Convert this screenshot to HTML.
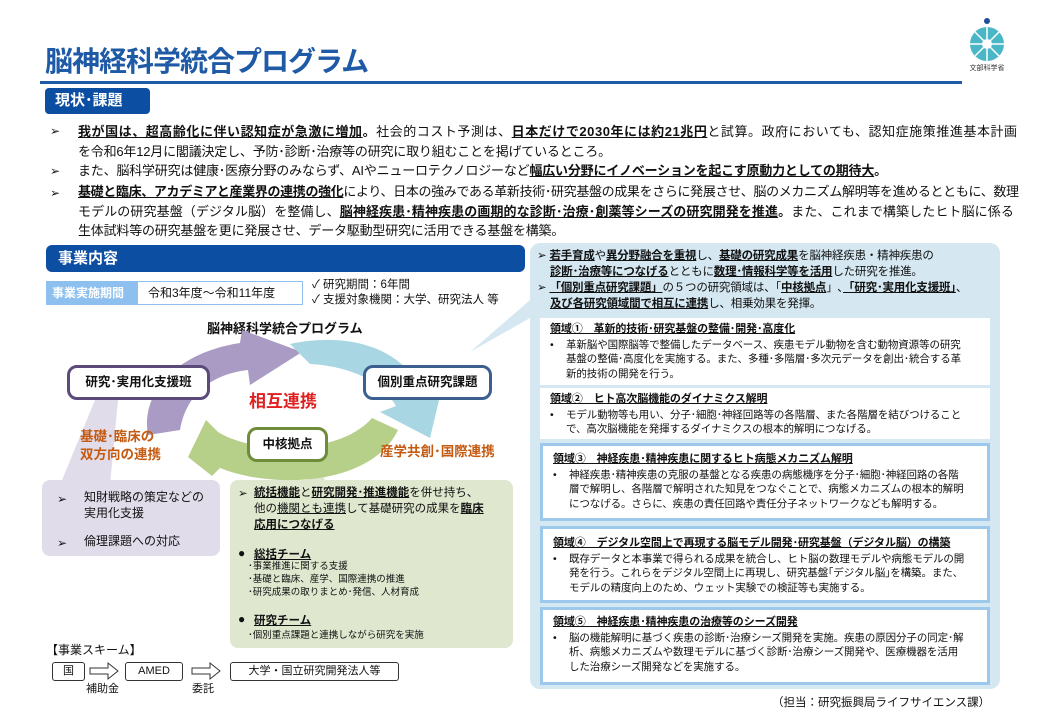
<!DOCTYPE html>
<html><head><meta charset="utf-8"><style>
*{margin:0;padding:0;box-sizing:border-box}
body{width:1040px;height:720px;background:#fff;position:relative;overflow:hidden;font-family:"Liberation Sans","Noto Sans CJK JP",sans-serif;color:#111}
.a{position:absolute;white-space:nowrap}
u{text-decoration:underline}
b{font-weight:bold}
.top{font-size:13px;line-height:19.5px;left:78px;letter-spacing:-0.2px}
.arr{position:absolute;font-size:12px;left:50px}
.rb{position:absolute;left:540px;width:450px;background:#fff;font-size:10.5px;line-height:14.5px;padding:4px 20px 0 10px;letter-spacing:-0.1px}
.rb .h{font-weight:bold;text-decoration:underline;font-size:11px;margin-bottom:1px}
.rb .t{padding-left:16px;position:relative}
.rb .t:before{content:"•";position:absolute;left:0}
.bl{border:3px solid #9cc8ec}
</style></head><body>
<div class="a" style="left:45px;top:40px;font-size:28px;font-weight:bold;color:#1f5aa6;letter-spacing:-1px">脳神経科学統合プログラム</div>
<div class="a" style="left:40px;top:81px;width:922px;height:3px;background:#1f5aa6"></div>
<svg class="a" style="left:960px;top:12px" width="55" height="60" viewBox="0 0 55 60"><circle cx="27" cy="9" r="3" fill="#1f4e9c"/><circle cx="27" cy="32" r="17" fill="#4bb6c5"/><circle cx="27" cy="32" r="5" fill="#fff"/><g stroke="#fff" stroke-width="1.5"><line x1="27" y1="15" x2="27" y2="49"/><line x1="10" y1="32" x2="44" y2="32"/><line x1="15" y1="20" x2="39" y2="44"/><line x1="39" y1="20" x2="15" y2="44"/></g><text x="27" y="58" font-size="7" text-anchor="middle" fill="#333">文部科学省</text></svg>
<div class="a" style="left:45px;top:88px;width:105px;height:26px;background:#0b4ea2;border-radius:4px;color:#fff;font-weight:bold;font-size:15px;line-height:26px;padding-left:10px">現状･課題</div>

<div class="arr" style="top:124px">➢</div>
<div class="a top" style="top:122px"><span style="letter-spacing:0.55px"><b><u>我が国は、超高齢化に伴い認知症が急激に増加</u>。</b>社会的コスト予測は、<b><u>日本だけで2030年には約21兆円</u></b>と試算。政府においても、認知症施策推進基本計画</span><br>を令和6年12月に閣議決定し、予防･診断･治療等の研究に取り組むことを掲げているところ。</div>
<div class="arr" style="top:164px">➢</div>
<div class="a top" style="top:161px">また、脳科学研究は健康･医療分野のみならず、AIやニューロテクノロジーなど<b><u>幅広い分野にイノベーションを起こす原動力としての期待大</u>。</b></div>
<div class="arr" style="top:186px">➢</div>
<div class="a top" style="top:182px"><span style="letter-spacing:-0.35px"><b><u>基礎と臨床、アカデミアと産業界の連携の強化</u></b>により、日本の強みである革新技術･研究基盤の成果をさらに発展させ、脳のメカニズム解明等を進めるとともに、数理</span><br><span style="letter-spacing:0.1px">モデルの研究基盤（デジタル脳）を整備し、<b><u>脳神経疾患･精神疾患の画期的な診断･治療･創薬等シーズの研究開発を推進</u>。</b>また、これまで構築したヒト脳に係る</span><br>生体試料等の研究基盤を更に発展させ、データ駆動型研究に活用できる基盤を構築。</div>

<div class="a" style="left:46px;top:245px;width:479px;height:27px;background:#0b4ea2;border-radius:6px;color:#fff;font-weight:bold;font-size:15px;line-height:27px;padding-left:12px">事業内容</div>
<div class="a" style="left:46px;top:281px;width:92px;height:24px;background:#8dc0ef;color:#fff;font-weight:bold;font-size:12px;line-height:24px;padding-left:6px">事業実施期間</div>
<div class="a" style="left:137px;top:281px;width:166px;height:24px;border:1px solid #8dc0ef;font-size:12px;line-height:22px;padding-left:10px">令和3年度～令和11年度</div>
<div class="a" style="left:312px;top:278px;font-size:11.5px;line-height:15px">✓ 研究期間：6年間<br>✓ 支援対象機関：大学、研究法人 等</div>
<div class="a" style="left:207px;top:318px;font-size:13px;font-weight:bold">脳神経科学統合プログラム</div>

<svg class="a" style="left:0;top:0" width="1040" height="720">
<path d="M560,300 L530,300 L470,352 L530,318 Z" fill="#d5e8f2"/>
<path d="M60,485 L110,485 L118,400 L95,400 Z" fill="#e0dcea"/>
<path d="M305,488 L330,488 L313,460 Z" fill="#dfe8cf"/>
<path d="M148,435 C140,390 180,352 240,343 L242,330 L302,352 L250,385 L248,370 C205,375 185,400 180,430 Z" fill="#a99bc4"/>
<path d="M290,344 C345,332 405,345 425,398 L440,396 L430,438 L380,412 L396,406 C380,378 345,366 310,364 Z" fill="#a8d6e3"/>
<path d="M398,430 C372,485 275,490 220,468 L212,476 L188,457 L206,420 L218,432 C255,455 340,455 372,418 Z" fill="#b6cf89"/>
</svg>
<div class="a" style="left:67px;top:365px;width:143px;height:35px;border:3px solid #5b4a7a;border-radius:10px;background:#fff;font-size:12.5px;font-weight:bold;line-height:29px;text-align:center">研究･実用化支援班</div>
<div class="a" style="left:363px;top:365px;width:129px;height:35px;border:3px solid #3b5f8e;border-radius:10px;background:#fff;font-size:12.5px;font-weight:bold;line-height:29px;text-align:center">個別重点研究課題</div>
<div class="a" style="left:247px;top:427px;width:81px;height:35px;border:3px solid #6e8c3a;border-radius:10px;background:#fff;font-size:12.5px;font-weight:bold;line-height:29px;text-align:center">中核拠点</div>
<div class="a" style="left:249px;top:387px;font-size:17px;font-weight:bold;color:#e02020">相互連携</div>
<div class="a" style="left:80px;top:428px;font-size:13.5px;font-weight:bold;color:#c55a11;line-height:18px">基礎･臨床の<br>双方向の連携</div>
<div class="a" style="left:380px;top:440px;font-size:13.5px;font-weight:bold;color:#c55a11">産学共創･国際連携</div>

<div class="a" style="left:42px;top:480px;width:178px;height:76px;background:#e0dcea;border-radius:8px;font-size:12px;line-height:16px">
<div class="a" style="left:15px;top:11px">➢</div><div class="a" style="left:42px;top:9px">知財戦略の策定などの<br>実用化支援</div>
<div class="a" style="left:15px;top:55px">➢</div><div class="a" style="left:42px;top:53px">倫理課題への対応</div></div>
<div class="a" style="left:230px;top:480px;width:283px;height:168px;background:#dfe8cf;border-radius:8px;font-size:11.5px">
<div class="a" style="left:8px;top:6px">➢</div>
<div class="a" style="left:24px;top:5px;line-height:16px"><b><u>統括機能</u></b>と<b><u>研究開発･推進機能</u></b>を併せ持ち、<br>他の<u>機関とも連携</u>して基礎研究の成果を<b><u>臨床</u></b><br><b><u>応用につなげる</u></b></div>
<div class="a" style="left:8px;top:66px;font-size:12px">●</div><div class="a" style="left:24px;top:66px;font-weight:bold"><u>総括チーム</u></div>
<div class="a" style="left:18px;top:80px;font-size:9.5px;line-height:13px">･事業推進に関する支援<br>･基礎と臨床、産学、国際連携の推進<br>･研究成果の取りまとめ･発信、人材育成</div>
<div class="a" style="left:8px;top:132px;font-size:12px">●</div><div class="a" style="left:24px;top:132px;font-weight:bold"><u>研究チーム</u></div>
<div class="a" style="left:18px;top:147px;font-size:9.5px">･個別重点課題と連携しながら研究を実施</div></div>

<div class="a" style="left:46px;top:641px;font-size:12px">【事業スキーム】</div>
<div class="a" style="left:52px;top:662px;width:33px;height:19px;border:1px solid #333;border-radius:3px;font-size:11px;text-align:center;line-height:17px">国</div>
<div class="a" style="left:125px;top:662px;width:58px;height:19px;border:1px solid #333;border-radius:3px;font-size:11px;text-align:center;line-height:17px">AMED</div>
<div class="a" style="left:230px;top:662px;width:169px;height:19px;border:1px solid #333;border-radius:3px;font-size:11px;text-align:center;line-height:17px">大学・国立研究開発法人等</div>
<svg class="a" style="left:88px;top:660px" width="140" height="22"><path d="M2,8 H20 V3 L30,11 L20,19 V14 H2 Z M104,8 H122 V3 L132,11 L122,19 V14 H104 Z" fill="#fff" stroke="#333"/></svg>
<div class="a" style="left:86px;top:680px;font-size:11px">補助金</div>
<div class="a" style="left:192px;top:680px;font-size:11px">委託</div>

<div class="a" style="left:530px;top:243px;width:470px;height:446px;background:#d5e8f2;border-radius:10px"></div>
<div class="a" style="left:537px;top:248px;font-size:11.5px;line-height:16px;letter-spacing:-0.2px">
<div>➢ <b><u>若手育成</u></b>や<b><u>異分野融合を重視</u></b>し、<b><u>基礎の研究成果</u></b>を脳神経疾患・精神疾患の</div>
<div style="padding-left:13px"><b><u>診断･治療等につなげる</u></b>とともに<b><u>数理･情報科学等を活用</u></b>した研究を推進。</div>
<div>➢ <b><u>「個別重点研究課題」</u></b>の５つの研究領域は、「<b><u>中核拠点</u></b>」､<b><u>「研究･実用化支援班」</u></b>、</div>
<div style="padding-left:13px"><b><u>及び各研究領域間で相互に連携</u></b>し、相乗効果を発揮。</div></div>

<div class="rb" style="top:318px;height:67px"><div class="h">領域①　革新的技術･研究基盤の整備･開発･高度化</div><div class="t">革新脳や国際脳等で整備したデータベース、疾患モデル動物を含む動物資源等の研究基盤の整備･高度化を実施する。また、多種･多階層･多次元データを創出･統合する革新的技術の開発を行う。</div></div>
<div class="rb" style="top:388px;height:51px"><div class="h">領域②　ヒト高次脳機能のダイナミクス解明</div><div class="t">モデル動物等も用い、分子･細胞･神経回路等の各階層、また各階層を結びつけることで、高次脳機能を発揮するダイナミクスの根本的解明につなげる。</div></div>
<div class="rb bl" style="top:443px;height:78px;padding-top:6px"><div class="h">領域③　神経疾患･精神疾患に関するヒト病態メカニズム解明</div><div class="t">神経疾患･精神疾患の克服の基盤となる疾患の病態機序を分子･細胞･神経回路の各階層で解明し、各階層で解明された知見をつなぐことで、病態メカニズムの根本的解明につなげる。さらに、疾患の責任回路や責任分子ネットワークなども解明する。</div></div>
<div class="rb bl" style="top:526px;height:77px;padding-top:7px"><div class="h">領域④　デジタル空間上で再現する脳モデル開発･研究基盤（デジタル脳）の構築</div><div class="t">既存データと本事業で得られる成果を統合し、ヒト脳の数理モデルや病態モデルの開発を行う。これらをデジタル空間上に再現し、研究基盤｢デジタル脳｣を構築。また、モデルの精度向上のため、ウェット実験での検証等も実施する。</div></div>
<div class="rb bl" style="top:607px;height:78px;padding-top:5px"><div class="h">領域⑤　神経疾患･精神疾患の治療等のシーズ開発</div><div class="t">脳の機能解明に基づく疾患の診断･治療シーズ開発を実施。疾患の原因分子の同定･解析、病態メカニズムや数理モデルに基づく診断･治療シーズ開発や、医療機器を活用した治療シーズ開発などを実施する。</div></div>
<div class="a" style="left:772px;top:694px;font-size:11.5px">（担当：研究振興局ライフサイエンス課）</div>
</body></html>
